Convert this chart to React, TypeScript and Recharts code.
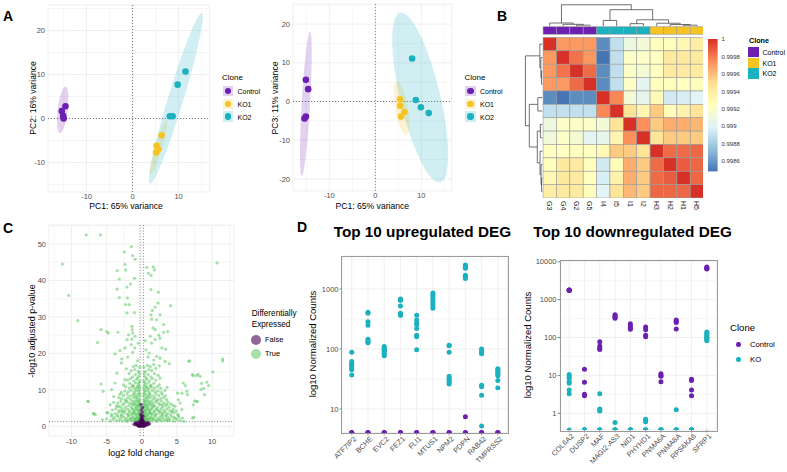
import React from 'react';
import { ScatterChart, Scatter, XAxis, YAxis, CartesianGrid, ReferenceLine } from 'recharts';

const FONT = '"Liberation Sans", Arial, Helvetica, sans-serif';
const PURPLE = '#6C1FB0';
const GOLD = '#F5C422';
const TEAL = '#1BB1BE';
const TICK_GREY = '#4D4D4D';
const GRID = '#EBEBEB';

// ---------- A: PCA ----------
const clones = ['Control', 'KO1', 'KO2'];
const cloneColors = [PURPLE, GOLD, TEAL];

const pc12Control = [[-15.4, 1.7], [-14.6, 2.8], [-15.1, 0.6], [-15.0, 0.0]];
const pc12KO1 = [[6.3, -3.8], [5.2, -6.2], [5.6, -7.0], [5.1, -7.7]];
const pc12KO2 = [[11.5, 10.7], [9.8, 7.7], [8.1, 0.5], [8.7, 0.5]];
const pc13Control = [[-15.1, 5.6], [-14.6, 3.2], [-15.1, -3.9], [-15.4, -4.4]];
const pc13KO1 = [[5.4, 0.6], [5.4, -1.1], [6.3, -2.7], [5.6, -3.9]];
const pc13KO2 = [[8.0, 11.1], [8.8, 0.4], [9.9, -1.5], [11.6, -3.0]];

// stat_ellipse output per clone: centre, end of major axis, end of minor axis
const pc12Ellipses = [
  { c: [-15.2, 2.0], major: [-14.6, 7.3], minor: [-14.12, 1.87] },
  { c: [5.6, -6.65], major: [7.4, -0.4], minor: [6.33, -6.88] },
  { c: [9.4, 4.55], major: [15.0, 23.9], minor: [11.0, 4.04] },
];
const pc13Ellipses = [
  { c: [-15.1, -0.55], major: [-14.2, 18.1], minor: [-14.19, -0.61] },
  { c: [5.7, -1.7], major: [4.65, 5.2], minor: [7.09, -1.4] },
  { c: [9.75, 1.05], major: [5.4, 23.0], minor: [14.0, 2.24] },
];

// ---------- B: sample correlation heatmap ----------
const sampleNames = ['G3', 'G4', 'G2', 'G5', 'I4', 'I5', 'I1', 'I2', 'H3', 'H2', 'H1', 'H5'];
const sampleClone = [0, 0, 0, 0, 2, 2, 2, 2, 1, 1, 1, 1];
const corMatrix = [
  [1, .99971, .99971, .99971, .99856, .99889, .99909, .99913, .99924, .99926, .99930, .99938],
  [.99971, 1, .99982, .99971, .99848, .99889, .99921, .99921, .99924, .99941, .99941, .99941],
  [.99971, .99982, 1, .99984, .99856, .99889, .99921, .99915, .99924, .99940, .99940, .99940],
  [.99971, .99971, .99984, 1, .99856, .99889, .99921, .99902, .99924, .99926, .99924, .99926],
  [.99856, .99848, .99856, .99856, 1, .99976, .99913, .99904, .99928, .99894, .99896, .99900],
  [.99889, .99889, .99889, .99889, .99976, 1, .99946, .99932, .99956, .99927, .99935, .99945],
  [.99909, .99921, .99921, .99921, .99913, .99946, 1, .99974, .99956, .99965, .99965, .99962],
  [.99913, .99921, .99915, .99902, .99904, .99932, .99974, 1, .99945, .99956, .99956, .99956],
  [.99924, .99924, .99924, .99924, .99928, .99956, .99956, .99945, 1, .99984, .99984, .99985],
  [.99926, .99941, .99940, .99926, .99894, .99927, .99965, .99956, .99984, 1, .99988, .99985],
  [.99930, .99941, .99940, .99924, .99896, .99935, .99965, .99956, .99984, .99988, 1, .99985],
  [.99938, .99941, .99940, .99926, .99900, .99945, .99962, .99956, .99985, .99985, .99985, 1],
];
// hclust merges: negative = leaf (1-based), positive = earlier merge; third value = height
const sampleTree = [
  [-3, -4, 0.05],
  [-2, 1, 0.09],
  [-1, 2, 0.15],
  [-5, -6, 0.27],
  [-7, -8, 0.12],
  [-11, -12, 0.05],
  [-10, 6, 0.08],
  [-9, 7, 0.14],
  [5, 8, 0.30],
  [4, 9, 0.77],
  [3, 10, 1.0],
];
const colorbarTicks = [1, 0.9998, 0.9996, 0.9994, 0.9992, 0.999, 0.9988, 0.9986];
const rdYlBu = ['#4575B4', '#91BFDB', '#E0F3F8', '#FFFFBF', '#FEE090', '#FC8D59', '#D73027'];

// ---------- C: volcano ----------
const deDown = [
  [-7.9, 52.5], [-5.9, 52.5], [-11.3, 44.5], [-10.4, 35.9], [-9.1, 29.0], [-5.8, 26.5], [-6.3, 23.0], [-3.4, 25.8], [-5.8, 11.6], [-7.6, 6.8], [-6.8, 3.5], [-6.6, 3.2], [-4.75, 25.6],
  [-1.5, 49.3], [-2.5, 47.8], [-1.3, 46.8], [-0.95, 45.8], [-2.4, 44.4], [-3.5, 42.7], [-2.3, 42.9], [-3.2, 40.4], [-1.05, 40.6], [-1.6, 39.0], [-3.5, 37.6], [-2.1, 38.2], [-3.2, 35.3], [-2.05, 35.2], [-2.3, 33.4], [-1.8, 33.4], [-1.05, 31.2], [-2.1, 31.1], [-1.4, 27.4], [-1.35, 26.5], [-0.95, 24.7], [-1.9, 25.1], [-1.4, 23.9],
  [-5.0, 26.0], [-1.3, 25.6], [-2.1, 23.8], [-1.5, 22.4], [-2.4, 21.5], [-3.1, 20.8], [-3.8, 19.9], [-2.85, 18.5], [-2.0, 19.0], [-1.3, 20.3], [-2.9, 17.4], [-3.55, 14.6], [-2.4, 12.8], [-3.8, 11.9], [-4.3, 10.1], [-4.0, 8.2], [-4.5, 5.9], [-5.0, 3.7], [-5.5, 9.6], [-3.4, 5.5], [-2.85, 4.1], [-0.6, 18.0], [-1.0, 21.5], [-0.5, 22.8], [-6.9, 3.5], [-7.7, 6.9],
  [-0.3, 1.4], [-0.5, 1.6], [-0.8, 1.5], [-1.1, 1.7], [-1.4, 1.5], [-1.7, 1.9], [-2.0, 1.6], [-2.4, 1.8], [-2.8, 1.5], [-3.2, 1.7], [-3.6, 1.6], [-4.1, 1.9], [-4.5, 1.5],
  [-0.4, 2.2], [-0.7, 2.5], [-1.0, 2.1], [-1.3, 2.7], [-1.6, 2.3], [-1.9, 2.8], [-2.2, 2.2], [-2.6, 2.6], [-3.0, 2.3], [-3.4, 2.7], [-3.9, 2.4], [-4.3, 2.8],
  [-0.35, 2.9], [-0.6, 1.9], [-1.2, 2.4], [-2.1, 1.4], [-2.9, 2.9], [-5.0, 2.1], [-5.6, 1.8],
  [-0.3, 3.2], [-0.6, 3.6], [-0.9, 3.1], [-1.2, 3.8], [-1.5, 3.3], [-1.8, 3.9], [-2.1, 3.4], [-2.5, 3.7], [-2.9, 3.2], [-3.3, 3.9], [-3.8, 3.5], [-4.3, 3.3], [-4.8, 3.8],
  [-0.4, 4.3], [-0.7, 4.8], [-1.0, 4.4], [-1.4, 4.9], [-1.7, 4.2], [-2.0, 4.7], [-2.4, 4.3], [-2.8, 4.9], [-3.2, 4.4], [-3.7, 4.8], [-4.2, 4.5],
  [-0.5, 4.0], [-1.1, 4.1], [-1.9, 3.1], [-2.7, 4.1], [-3.5, 3.1],
  [-0.3, 5.2], [-0.6, 5.6], [-0.9, 5.1], [-1.2, 5.8], [-1.5, 5.3], [-1.9, 5.7], [-2.3, 5.2], [-2.7, 5.9], [-3.1, 5.4], [-3.6, 5.6],
  [-0.4, 6.3], [-0.7, 6.8], [-1.0, 6.2], [-1.3, 6.9], [-1.7, 6.4], [-2.1, 6.7], [-2.5, 6.3], [-3.0, 6.9], [-3.4, 6.4],
  [-0.3, 7.3], [-0.6, 7.7], [-0.9, 7.2], [-1.2, 7.9], [-1.6, 7.4], [-2.0, 7.8], [-2.4, 7.3], [-2.9, 7.6], [-3.3, 7.9],
  [-0.5, 5.9], [-1.4, 6.1], [-2.2, 7.0], [-4.0, 6.6],
  [-0.3, 8.3], [-0.6, 8.8], [-0.9, 8.2], [-1.3, 8.6], [-1.7, 8.3], [-2.1, 8.9], [-2.6, 8.5], [-3.1, 8.8],
  [-0.4, 9.4], [-0.8, 9.8], [-1.1, 9.3], [-1.5, 9.9], [-1.9, 9.5], [-2.4, 9.7], [-2.9, 9.3],
  [-0.3, 10.4], [-0.6, 10.9], [-1.0, 10.3], [-1.4, 10.8], [-1.8, 10.5], [-2.3, 10.9],
  [-0.5, 11.5], [-0.9, 11.9], [-1.3, 11.3], [-1.7, 11.8], [-2.6, 11.4],
  [-0.3, 12.4], [-0.7, 12.9], [-1.1, 12.5], [-1.6, 13.1], [-2.0, 12.7],
  [-0.4, 13.8], [-0.9, 14.2], [-1.3, 13.6], [-1.8, 14.5],
  [-0.5, 15.1], [-1.0, 15.6], [-1.5, 15.3], [-0.3, 16.2], [-0.8, 16.7], [-1.2, 16.4], [-2.2, 15.8],
  [-0.45, 1.8], [-0.9, 1.9], [-1.5, 2.0], [-0.55, 2.7], [-0.85, 3.4], [-1.35, 3.5], [-0.35, 3.9], [-0.65, 4.5], [-1.25, 4.6], [-0.4, 5.5], [-0.8, 6.0], [-1.1, 6.6], [-0.5, 7.0], [-0.75, 8.0], [-1.05, 8.9], [-0.45, 9.9], [-0.7, 10.6], [-1.2, 11.0], [-0.4, 12.0], [-0.6, 13.3], [-0.35, 14.6],
  [-0.3, 1.9], [-0.35, 2.5], [-0.3, 3.5], [-0.3, 4.7], [-0.3, 6.0], [-0.35, 6.8], [-0.3, 8.9], [-0.35, 11.0], [-0.55, 3.0], [-0.75, 2.1], [-1.05, 3.7], [-0.8, 5.3],
];
const deUp = [
  [10.7, 44.8], [11.5, 18.5], [11.5, 17.9], [10.1, 14.9], [9.5, 11.2], [8.4, 10.1], [6.8, 18.0], [4.1, 33.1], [7.3, 13.9], [7.8, 13.9], [8.8, 10.4], [8.5, 11.8], [7.5, 7.0], [7.9, 6.8], [7.4, 2.5], [6.2, 11.2], [5.7, 9.1], [6.5, 8.7],
  [0.7, 43.6], [1.65, 43.7], [0.94, 42.0], [1.32, 41.4], [1.8, 42.9], [1.3, 37.5], [2.36, 36.8], [1.9, 32.7], [2.3, 33.8], [1.5, 31.8], [1.3, 30.6], [2.6, 30.6], [2.1, 29.2], [1.4, 29.4], [1.6, 27.0], [1.9, 26.5], [3.1, 27.9], [3.7, 26.0], [2.6, 24.2], [1.2, 24.7],
  [1.4, 22.8], [1.9, 23.8], [2.4, 25.0], [3.1, 25.8], [2.85, 21.5], [3.4, 21.2], [1.04, 20.1], [2.1, 19.2], [2.6, 18.7], [3.3, 17.8], [3.9, 17.2], [6.7, 17.8], [8.0, 14.3], [7.2, 14.2], [8.3, 13.7], [9.25, 12.1], [8.9, 8.7], [7.8, 6.9], [7.3, 5.9], [7.2, 2.3], [5.9, 11.9], [6.4, 9.6], [5.1, 9.1], [5.2, 7.3], [5.45, 6.4], [4.7, 5.5], [5.7, 4.6], [4.3, 4.1],
  [0.9, 19.0], [0.6, 21.0], [1.7, 18.2], [0.5, 23.5],
  [0.3, 1.4], [0.5, 1.7], [0.8, 1.5], [1.1, 1.8], [1.4, 1.5], [1.7, 1.9], [2.0, 1.6], [2.4, 1.8], [2.8, 1.5], [3.2, 1.7], [3.6, 1.6], [4.0, 1.9], [4.5, 1.5], [5.0, 1.8], [5.5, 1.6], [6.0, 1.4],
  [0.4, 2.2], [0.7, 2.6], [1.0, 2.1], [1.3, 2.7], [1.6, 2.3], [1.9, 2.8], [2.2, 2.2], [2.6, 2.6], [3.0, 2.3], [3.4, 2.8], [3.8, 2.4], [4.3, 2.7], [4.8, 2.2], [5.3, 2.5],
  [0.35, 2.9], [0.6, 1.9], [1.2, 2.4], [2.1, 1.4], [2.9, 2.9], [3.5, 2.0], [5.8, 2.3],
  [0.3, 3.2], [0.6, 3.6], [0.9, 3.1], [1.2, 3.8], [1.5, 3.3], [1.8, 3.9], [2.1, 3.4], [2.5, 3.7], [2.9, 3.2], [3.3, 3.9], [3.7, 3.5], [4.1, 3.2], [4.6, 3.7], [5.1, 3.3],
  [0.4, 4.3], [0.7, 4.8], [1.0, 4.4], [1.4, 4.9], [1.7, 4.2], [2.0, 4.7], [2.4, 4.3], [2.8, 4.9], [3.2, 4.4], [3.6, 4.8], [4.0, 4.3], [4.5, 4.7],
  [0.5, 4.0], [1.1, 4.1], [1.9, 3.1], [2.7, 4.1], [3.5, 3.1], [4.9, 4.2],
  [0.3, 5.2], [0.6, 5.6], [0.9, 5.1], [1.2, 5.8], [1.5, 5.3], [1.8, 5.7], [2.2, 5.2], [2.6, 5.9], [3.0, 5.4], [3.4, 5.7], [3.9, 5.3], [4.4, 5.8],
  [0.4, 6.3], [0.7, 6.8], [1.0, 6.2], [1.3, 6.9], [1.6, 6.4], [2.0, 6.7], [2.4, 6.3], [2.8, 6.9], [3.2, 6.4], [3.7, 6.7],
  [0.3, 7.3], [0.6, 7.7], [0.9, 7.2], [1.2, 7.9], [1.6, 7.4], [1.9, 7.8], [2.3, 7.3], [2.7, 7.6], [3.1, 7.9], [3.5, 7.4],
  [0.5, 5.9], [1.4, 6.1], [2.1, 7.0], [4.1, 6.2],
  [0.3, 8.3], [0.6, 8.8], [0.9, 8.2], [1.2, 8.6], [1.6, 8.3], [2.0, 8.9], [2.4, 8.5], [2.9, 8.8], [3.4, 8.4],
  [0.4, 9.4], [0.8, 9.8], [1.1, 9.3], [1.5, 9.9], [1.9, 9.5], [2.3, 9.7], [2.8, 9.3], [3.3, 9.9],
  [0.3, 10.4], [0.7, 10.9], [1.0, 10.3], [1.4, 10.8], [1.8, 10.5], [2.2, 10.9], [2.7, 10.4],
  [0.5, 11.5], [0.9, 11.9], [1.3, 11.3], [1.7, 11.8], [2.5, 11.4], [3.6, 10.7],
  [0.3, 12.4], [0.7, 12.9], [1.1, 12.5], [1.5, 13.1], [2.0, 12.7], [2.6, 13.3],
  [0.4, 13.8], [0.9, 14.2], [1.3, 13.6], [1.8, 14.5], [2.3, 14.0],
  [0.5, 15.1], [1.0, 15.6], [1.4, 15.3], [2.0, 15.9], [0.3, 16.2], [0.8, 16.7], [1.2, 16.4], [1.7, 17.0], [2.5, 16.6],
  [0.45, 1.8], [0.9, 1.9], [1.5, 2.0], [0.55, 2.7], [0.85, 3.4], [1.35, 3.5], [0.35, 3.9], [0.65, 4.5], [1.25, 4.6], [0.4, 5.5], [0.8, 6.0], [1.1, 6.6], [0.5, 7.0], [0.75, 8.0], [1.05, 8.9], [0.45, 9.9], [0.7, 10.6], [1.2, 11.0], [0.4, 12.0], [0.6, 13.3], [0.35, 14.6],
  [2.6, 1.9], [3.8, 1.6], [4.6, 2.4], [5.2, 3.0], [3.0, 3.6], [4.3, 4.0], [2.2, 4.5], [1.7, 5.5], [2.9, 6.0], [3.6, 6.0],
  [0.3, 1.9], [0.35, 2.5], [0.3, 3.5], [0.3, 4.7], [0.3, 6.0], [0.35, 6.8], [0.3, 8.9], [0.35, 11.0], [0.55, 3.0], [0.75, 2.1], [1.05, 3.7], [0.8, 5.3],
];
const notDe = [
  [0, 0.1], [0.1, 0.3], [-0.1, 0.2], [0.2, 0.5], [-0.2, 0.4], [0.3, 0.2], [-0.3, 0.3], [0.4, 0.6], [-0.4, 0.5], [0.5, 0.3], [-0.5, 0.2], [0.6, 0.7], [-0.6, 0.6], [0.7, 0.4], [-0.7, 0.3],
  [0.8, 0.9], [-0.8, 0.8], [0.9, 0.5], [-0.9, 0.6], [0.9, 1.1], [-0.9, 1.0], [0.0, 0.8], [0.1, 1.0], [-0.1, 1.2], [0.2, 1.1], [-0.2, 0.9], [0.3, 1.2], [-0.3, 1.1], [0.5, 1.0], [-0.5, 1.2],
  [0.0, 1.5], [0.1, 1.9], [-0.1, 2.3], [0.15, 2.8], [-0.15, 3.3], [0.05, 3.9], [-0.05, 4.5], [0.1, 5.2], [-0.1, 6.0], [1.1, 0.7], [-1.1, 0.6],
  [0.0, 0.4], [0.2, 0.0], [-0.2, 0.05], [0.4, 0.1], [-0.4, 0.0], [0.0, 2.0], [0.0, 2.6], [0.0, 3.0], [0.15, 1.6], [-0.15, 1.7],
];

// ---------- D: top DEG counts ----------
const upGenes = ['ATF7IP2', 'BCHE', 'EVC2', 'FEZ1', 'FLI1', 'MTUS1', 'NPM2', 'PDPN', 'RAB42', 'TMPRSS2'];
const upKO = [
  [88, 62, 57, 55, 51, 47, 45, 37],
  [410, 395, 285, 250, 145, 138, 130, 127],
  [110, 104, 99, 95, 91, 87, 82, 77],
  [680, 655, 650, 520, 395, 380, 370, 365],
  [365, 305, 270, 255, 220, 170, 160, 97],
  [860, 800, 740, 680, 620, 570, 525, 480],
  [115, 113, 88, 35, 32, 30, 28, 26],
  [2520, 2400, 2300, 2220, 1700, 1620, 1560, 1500],
  [100, 93, 87, 83, 25, 23.5, 17, 5.2],
  [47, 45, 42, 40, 38, 36, 30, 22.5],
];
const upControl = [
  [0, 0, 0, 0], [0, 0, 0, 0], [0, 0, 0, 0], [0, 0, 0, 0], [0, 0, 0, 0],
  [0, 0, 0, 0], [0, 0, 0, 0], [0, 0, 0, 7.4], [0, 0, 0, 0], [0, 0, 0, 0],
];
const downGenes = ['COL6A2', 'DUSP2', 'MAF', 'MAGI2-AS3', 'NID1', 'PHYHD1', 'PNMA6A', 'PNMA8A', 'RPS6KA6', 'SFRP1'];
const downControl = [
  [1800, 1780, 1760, 1750],
  [14.5, 6.6, 3.2, 2.9],
  [77, 60, 52, 48],
  [400, 370, 340, 320],
  [230, 200, 180, 165],
  [190, 160, 115, 105],
  [11, 10, 9.5, 6.8],
  [290, 270, 250, 168],
  [7.9, 7.3, 4.1, 2.9],
  [7200, 6800, 6600, 6400],
];
const downKO = [
  [10.5, 9.6, 8.4, 6.8, 6.2, 4.1, 3.3, 0],
  [0, 0, 0, 0, 0, 0, 0, 0],
  [3.3, 1.3, 1.2, 1.15, 0, 0, 0, 0],
  [0.57, 0, 0, 0, 0, 0, 0, 0],
  [0, 0, 0, 0, 0, 0, 0, 0],
  [0.7, 0.65, 0.6, 0, 0, 0, 0, 0],
  [0, 0, 0, 0, 0, 0, 0, 0],
  [1.25, 0, 0, 0, 0, 0, 0, 0],
  [0, 0, 0, 0, 0, 0, 0, 0],
  [140, 130, 120, 110, 100, 95, 88, 82],
];

// ---------- layout helpers ----------
type Box = { l: number; t: number; r: number; b: number; x: number[]; y: number[] };

const frame = (box: Box, yw: number, xh: number, padT = 4, padR = 4) => ({
  style: { position: 'absolute' as const, left: box.l - yw, top: box.t - padT },
  width: box.r - box.l + yw + padR,
  height: box.b - box.t + padT + xh,
  margin: { top: padT, right: padR, left: 0, bottom: 0 },
});

const toXY = (pts: number[][]) => pts.map(([x, y]) => ({ x, y }));

const dot = (r: number, fill: string, opacity = 1) => (p: any) =>
  <circle cx={p.cx} cy={p.cy} r={r} fill={fill} fillOpacity={opacity} />;

const Txt = ({ x, y, size = 7.5, anchor = 'start', weight = 400, color = '#000', children }: any) => {
  const tx = anchor === 'middle' ? '-50%' : anchor === 'end' ? '-100%' : '0';
  return (
    <div style={{ position: 'absolute', left: x, top: y, transform: `translate(${tx}, -50%)`, fontSize: size, fontWeight: weight, color, whiteSpace: 'nowrap', lineHeight: 1 }}>
      {children}
    </div>
  );
};

const VTxt = ({ x, y, size = 9, children }: any) => (
  <div style={{ position: 'absolute', left: x, top: y, transform: 'translate(-50%, -50%) rotate(-90deg)', fontSize: size, whiteSpace: 'nowrap', lineHeight: 1 }}>
    {children}
  </div>
);

const tickStyle = { fontSize: 7.5, fill: TICK_GREY };

// ---------- A ----------
const pc12Box: Box = { l: 48.1, t: 4.8, r: 209.5, b: 191.8, x: [-18.4, 16.7], y: [-16.7, 25.8] };
const pc13Box: Box = { l: 293, t: 4.2, r: 451.7, b: 191.1, x: [-17.9, 16.6], y: [-23.1, 25.2] };

const PcaPanel = ({ box, points, ellipses, yTicks, yMinor }: any) => {
  const f = frame(box, 20, 14);
  const kx = (box.r - box.l) / (box.x[1] - box.x[0]);
  const ky = (box.b - box.t) / (box.y[1] - box.y[0]);
  const ellipseShape = (color: string) => (p: any) => {
    const d = p.payload;
    const m = [d.ax * kx, -d.ay * ky, d.bx * kx, -d.by * ky, p.cx, p.cy];
    return <circle cx={0} cy={0} r={1} fill={color} fillOpacity={0.2} transform={`matrix(${m.join(' ')})`} />;
  };
  return (
    <div style={f.style}>
      <ScatterChart width={f.width} height={f.height} margin={f.margin}>
        <CartesianGrid stroke={GRID} strokeWidth={0.45} verticalValues={[-15, -5, 5, 15]} horizontalValues={yMinor} />
        <CartesianGrid stroke={GRID} strokeWidth={0.8} />
        <XAxis type="number" dataKey="x" domain={box.x} ticks={[-10, 0, 10]} interval={0} allowDataOverflow axisLine={false} tickLine={false} tickSize={0} tickMargin={2} height={14} tick={tickStyle} />
        <YAxis type="number" dataKey="y" domain={box.y} ticks={yTicks} interval={0} allowDataOverflow axisLine={false} tickLine={false} tickSize={0} tickMargin={3} width={20} tick={tickStyle} />
        {ellipses.map((e: any, i: number) => (
          <Scatter
            key={`ell-${i}`}
            data={[{ x: e.c[0], y: e.c[1], ax: e.major[0] - e.c[0], ay: e.major[1] - e.c[1], bx: e.minor[0] - e.c[0], by: e.minor[1] - e.c[1] }]}
            shape={ellipseShape(cloneColors[i])}
            isAnimationActive={false}
          />
        ))}
        <ReferenceLine x={0} stroke="#555" strokeWidth={0.8} strokeDasharray="1 2" />
        <ReferenceLine y={0} stroke="#555" strokeWidth={0.8} strokeDasharray="1 2" />
        {points.map((pts: number[][], i: number) => (
          <Scatter key={`pts-${i}`} data={toXY(pts)} shape={dot(3.3, cloneColors[i])} isAnimationActive={false} />
        ))}
      </ScatterChart>
    </div>
  );
};

const PcaLegend = ({ x }: { x: number }) => (
  <>
    <Txt x={x} y={78.3} size={8}>Clone</Txt>
    {clones.map((c, i) => (
      <React.Fragment key={c}>
        <div style={{ position: 'absolute', left: x + 0.5, top: 91 + i * 12.8 - 5.3, width: 10.6, height: 10.6, background: cloneColors[i], opacity: 0.2 }} />
        <div style={{ position: 'absolute', left: x + 0.5 + 5.3 - 3.3, top: 91 + i * 12.8 - 3.3, width: 6.6, height: 6.6, borderRadius: '50%', background: cloneColors[i] }} />
        <Txt x={x + 15.5} y={91 + i * 12.8} size={7}>{c}</Txt>
      </React.Fragment>
    ))}
  </>
);

// ---------- B ----------
const HM_CELL = 13.38;
const hmBox: Box = { l: 522.63, t: 4.25, r: 522.63 + 13.5 * HM_CELL, b: 4.25 + 14.5 * HM_CELL, x: [-2, 11.5], y: [-3, 11.5] };
const COL_BASE = -1.337;
const COL_SPAN = 1.607;
const ROW_BASE = -0.55;
const ROW_SPAN = 1.27;
const ANNOT_ROW = -1.02;

const flatCor = corMatrix.flat();
const corLo = Math.min(...flatCor);
const corHi = Math.max(...flatCor);

const hex = (h: string) => [1, 3, 5].map((i) => parseInt(h.slice(i, i + 2), 16));
const heatColor = (v: number) => {
  const t = Math.min(1, Math.max(0, (v - corLo) / (corHi - corLo))) * (rdYlBu.length - 1);
  const i = Math.min(rdYlBu.length - 2, Math.floor(t));
  const a = hex(rdYlBu[i]);
  const b = hex(rdYlBu[i + 1]);
  const f = t - i;
  return `rgb(${a.map((c, k) => Math.round(c + (b[k] - c) * f)).join(',')})`;
};

const treeSegments = (merges: number[][]) => {
  const pos: number[] = [];
  const hgt: number[] = [];
  const at = (k: number) => (k < 0 ? [-k - 1, 0] : [pos[k - 1], hgt[k - 1]]);
  const segs: number[][] = [];
  merges.forEach(([a, b, h], i) => {
    const [pa, ha] = at(a);
    const [pb, hb] = at(b);
    segs.push([pa, ha, pa, h], [pa, h, pb, h], [pb, h, pb, hb]);
    pos[i] = (pa + pb) / 2;
    hgt[i] = h;
  });
  return segs;
};

const heatCells = corMatrix.flatMap((row, r) => row.map((v, c) => ({ x: c, y: r, v })));
const annotCells = sampleClone.map((g, c) => ({ x: c, y: ANNOT_ROW, g }));
const treeSegs = treeSegments(sampleTree);

const ColLabel = ({ x, y, payload }: any) => (
  <text transform={`translate(${x},${y}) rotate(90)`} fontSize={7} fill="#222" dy="0.35em" textAnchor="start">
    {sampleNames[payload.value]}
  </text>
);

const Heatmap = () => {
  const f = frame(hmBox, 0, 22, 0, 0);
  return (
    <div style={f.style}>
      <ScatterChart width={f.width} height={f.height} margin={f.margin}>
        <XAxis type="number" dataKey="x" domain={hmBox.x} ticks={sampleNames.map((_, i) => i)} interval={0} allowDataOverflow axisLine={false} tickLine={false} tickSize={0} tickMargin={3} height={22} tick={<ColLabel />} />
        <YAxis type="number" dataKey="y" domain={hmBox.y} reversed hide allowDataOverflow />
        <Scatter
          data={heatCells}
          isAnimationActive={false}
          shape={(p: any) => (
            <rect x={p.cx - HM_CELL / 2} y={p.cy - HM_CELL / 2} width={HM_CELL} height={HM_CELL} fill={heatColor(p.payload.v)} stroke="#9b9b9b" strokeWidth={0.6} />
          )}
        />
        <Scatter
          data={annotCells}
          isAnimationActive={false}
          shape={(p: any) => (
            <rect x={p.cx - HM_CELL / 2} y={p.cy - 3.75} width={HM_CELL} height={7.5} fill={cloneColors[p.payload.g]} stroke="#9b9b9b" strokeWidth={0.6} />
          )}
        />
        {treeSegs.map(([p1, h1, p2, h2], i) => (
          <ReferenceLine
            key={`ct-${i}`}
            ifOverflow="visible"
            stroke="#333"
            strokeWidth={0.7}
            segment={[{ x: p1, y: COL_BASE - h1 * COL_SPAN }, { x: p2, y: COL_BASE - h2 * COL_SPAN }]}
          />
        ))}
        {treeSegs.map(([p1, h1, p2, h2], i) => (
          <ReferenceLine
            key={`rt-${i}`}
            ifOverflow="visible"
            stroke="#333"
            strokeWidth={0.7}
            segment={[{ x: ROW_BASE - h1 * ROW_SPAN, y: p1 }, { x: ROW_BASE - h2 * ROW_SPAN, y: p2 }]}
          />
        ))}
      </ScatterChart>
    </div>
  );
};

const CB = { x: 708, t: 39.3, w: 9.6, h: 132.4 };
const HeatLegend = () => (
  <>
    <svg style={{ position: 'absolute', left: CB.x, top: CB.t }} width={CB.w} height={CB.h}>
      <defs>
        <linearGradient id="cbar" x1="0" y1="1" x2="0" y2="0">
          {rdYlBu.map((c, i) => <stop key={c} offset={i / (rdYlBu.length - 1)} stopColor={c} />)}
        </linearGradient>
      </defs>
      <rect x={0} y={0} width={CB.w} height={CB.h} fill="url(#cbar)" />
    </svg>
    {colorbarTicks.map((v) => (
      <Txt key={v} x={CB.x + 13.5} y={CB.t + ((corHi - v) / (corHi - corLo)) * CB.h} size={6} color="#333">{String(v)}</Txt>
    ))}
    <Txt x={749} y={40.7} size={7.2} weight={700}>Clone</Txt>
    {clones.map((c, i) => (
      <React.Fragment key={c}>
        <div style={{ position: 'absolute', left: 748, top: 46.7 + i * 10.8, width: 11, height: 10.3, background: cloneColors[i] }} />
        <Txt x={762.5} y={51.8 + i * 10.8} size={7}>{c}</Txt>
      </React.Fragment>
    ))}
  </>
);

// ---------- C ----------
const volBox: Box = { l: 48.9, t: 225.3, r: 233.8, b: 436.3, x: [-13.2, 13.1], y: [-2.63, 55.2] };

const Volcano = () => {
  const f = frame(volBox, 16, 14);
  return (
    <div style={f.style}>
      <ScatterChart width={f.width} height={f.height} margin={f.margin}>
        <CartesianGrid stroke={GRID} strokeWidth={0.45} verticalValues={[-12.5, -7.5, -2.5, 2.5, 7.5, 12.5]} horizontalValues={[5, 15, 25, 35, 45, 55]} />
        <CartesianGrid stroke={GRID} strokeWidth={0.8} />
        <XAxis type="number" dataKey="x" domain={volBox.x} ticks={[-10, -5, 0, 5, 10]} interval={0} allowDataOverflow axisLine={false} tickLine={false} tickSize={0} tickMargin={3} height={14} tick={tickStyle} />
        <YAxis type="number" dataKey="y" domain={volBox.y} ticks={[0, 10, 20, 30, 40, 50]} interval={0} allowDataOverflow axisLine={false} tickLine={false} tickSize={0} tickMargin={3} width={16} tick={tickStyle} />
        <Scatter data={toXY(deDown.concat(deUp))} shape={dot(1.6, '#5DC863', 0.55)} isAnimationActive={false} />
        <Scatter data={toXY(notDe)} shape={dot(1.7, '#440154', 0.65)} isAnimationActive={false} />
        <ReferenceLine x={-0.25} stroke="#666" strokeWidth={0.8} strokeDasharray="1 1.8" />
        <ReferenceLine x={0.25} stroke="#666" strokeWidth={0.8} strokeDasharray="1 1.8" />
        <ReferenceLine y={1.3} stroke="#666" strokeWidth={0.8} strokeDasharray="1 1.8" />
      </ScatterChart>
    </div>
  );
};

// ---------- D ----------
const upBox: Box = { l: 341.7, t: 256, r: 507.3, b: 432.7, x: [-0.6, 9.6], y: [4.03, 3548] };
const downBox: Box = { l: 560, t: 260, r: 716, b: 430, x: [-0.6, 9.6], y: [0.363, 11090] };

// zero counts sit on the floor of the log axis
const countsToPoints = (rows: number[][], floor: number) =>
  rows.flatMap((vals, gi) => vals.map((v) => ({ x: gi, y: Math.max(v, floor) })));

const DegPanel = ({ box, genes, control, ko, yTicks, yMinor }: any) => {
  const f = frame(box, 26, 44);
  const SlantTick = ({ x, y, payload }: any) => (
    <text transform={`translate(${x + 2},${y}) rotate(-45)`} textAnchor="end" fontSize={7.3} fill={TICK_GREY} dy="0.6em">
      {genes[payload.value]}
    </text>
  );
  return (
    <>
      <div style={f.style}>
        <ScatterChart width={f.width} height={f.height} margin={f.margin}>
          <CartesianGrid stroke={GRID} strokeWidth={0.45} vertical={false} horizontalValues={yMinor} />
          <CartesianGrid stroke={GRID} strokeWidth={0.8} />
          <XAxis type="number" dataKey="x" domain={box.x} ticks={genes.map((_: string, i: number) => i)} interval={0} allowDataOverflow axisLine={false} tickLine={{ stroke: '#333', strokeWidth: 0.6 }} tickSize={2.5} tickMargin={1} height={44} tick={<SlantTick />} />
          <YAxis type="number" dataKey="y" scale="log" domain={box.y} ticks={yTicks} interval={0} allowDataOverflow axisLine={false} tickLine={{ stroke: '#333', strokeWidth: 0.6 }} tickSize={2.5} tickMargin={1} width={26} tick={tickStyle} />
          <Scatter data={countsToPoints(control, box.y[0])} shape={dot(2.5, PURPLE)} isAnimationActive={false} />
          <Scatter data={countsToPoints(ko, box.y[0])} shape={dot(2.5, TEAL)} isAnimationActive={false} />
        </ScatterChart>
      </div>
      <div style={{ position: 'absolute', left: box.l - 0.5, top: box.t - 0.5, width: box.r - box.l, height: box.b - box.t, border: '1px solid #9a9a9a' }} />
    </>
  );
};

export default function App() {
  return (
    <div style={{ position: 'absolute', left: 0, top: 0, width: 787, height: 472, background: '#fff', overflow: 'hidden', fontFamily: FONT, color: '#000' }}>
      {/* A */}
      <PcaPanel box={pc12Box} points={[pc12Control, pc12KO1, pc12KO2]} ellipses={pc12Ellipses} yTicks={[-10, 0, 10, 20]} yMinor={[-15, -5, 5, 15, 25]} />
      <PcaPanel box={pc13Box} points={[pc13Control, pc13KO1, pc13KO2]} ellipses={pc13Ellipses} yTicks={[-20, -10, 0, 10, 20]} yMinor={[-15, -5, 5, 15, 25]} />
      <VTxt x={33} y={98.3} size={8.6}>PC2: 16% variance</VTxt>
      <VTxt x={275} y={97.7} size={8.6}>PC3: 11% variance</VTxt>
      <Txt x={126} y={205.7} size={8.6} anchor="middle">PC1: 65% variance</Txt>
      <Txt x={372.3} y={205.7} size={8.6} anchor="middle">PC1: 65% variance</Txt>
      <PcaLegend x={222} />
      <PcaLegend x={464.5} />

      {/* B */}
      <Heatmap />
      <HeatLegend />

      {/* C */}
      <Volcano />
      <VTxt x={31.7} y={331} size={9}>-log10 adjusted p-value</VTxt>
      <Txt x={141.3} y={452.7} size={9} anchor="middle">log2 fold change</Txt>
      <Txt x={251.7} y={314.3} size={8.2}>Differentially</Txt>
      <Txt x={251.7} y={325.3} size={8.2}>Expressed</Txt>
      <div style={{ position: 'absolute', left: 250.7, top: 335, width: 10, height: 10, borderRadius: '50%', background: '#440154', opacity: 0.6 }} />
      <div style={{ position: 'absolute', left: 250.7, top: 349.3, width: 10, height: 10, borderRadius: '50%', background: '#5DC863', opacity: 0.55 }} />
      <Txt x={265} y={340} size={7.5}>False</Txt>
      <Txt x={265} y={354.3} size={7.5}>True</Txt>

      {/* D */}
      <Txt x={422.4} y={231.7} size={15.3} weight={700} anchor="middle">Top 10 upregulated DEG</Txt>
      <Txt x={632.5} y={231.5} size={15.3} weight={700} anchor="middle">Top 10 downregulated DEG</Txt>
      <DegPanel box={upBox} genes={upGenes} control={upControl} ko={upKO} yTicks={[10, 100, 1000]} yMinor={[31.6, 316, 3162]} />
      <DegPanel box={downBox} genes={downGenes} control={downControl} ko={downKO} yTicks={[1, 10, 100, 1000, 10000]} yMinor={[3.16, 31.6, 316, 3162]} />
      <VTxt x={313.3} y={344.3} size={9.5}>log10 Normalized Counts</VTxt>
      <VTxt x={527.5} y={345} size={9.5}>log10 Normalized Counts</VTxt>
      <Txt x={730} y={327.7} size={9.6}>Clone</Txt>
      <div style={{ position: 'absolute', left: 736, top: 342, width: 4.6, height: 4.6, borderRadius: '50%', background: PURPLE }} />
      <div style={{ position: 'absolute', left: 736, top: 357, width: 4.6, height: 4.6, borderRadius: '50%', background: TEAL }} />
      <Txt x={750} y={344.5} size={7.7}>Control</Txt>
      <Txt x={750} y={359.5} size={7.7}>KO</Txt>

      {/* panel tags */}
      <Txt x={3} y={16} size={14} weight={700}>A</Txt>
      <Txt x={497} y={16} size={14} weight={700}>B</Txt>
      <Txt x={3} y={228} size={14} weight={700}>C</Txt>
      <Txt x={297} y={226.7} size={14} weight={700}>D</Txt>
    </div>
  );
}
